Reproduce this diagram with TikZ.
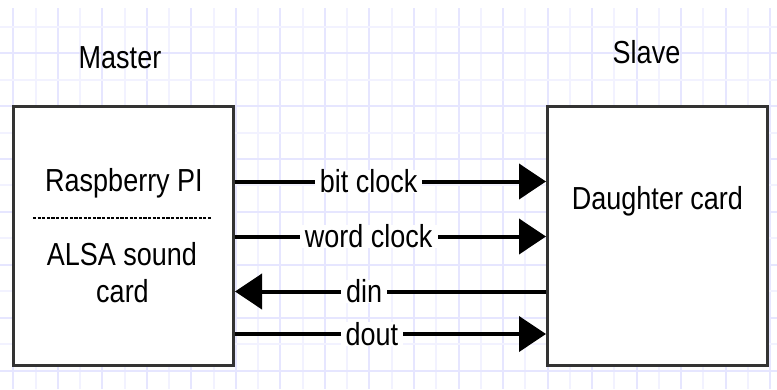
\documentclass[tikz,border=0pt]{standalone}
\usepackage{fontspec}
\setmainfont{Liberation Sans}
\usepackage{tikz}
\usetikzlibrary{arrows.meta}

\definecolor{griddark}{RGB}{230,230,255}
\definecolor{gridlight}{RGB}{242,242,255}
\definecolor{boxgray}{RGB}{51,51,51}

\tikzset{
  card/.style={draw=boxgray, line width=3pt, fill=white, inner sep=0pt,
    minimum width=220pt, minimum height=259pt},
  txt/.style={font=\fontsize{27}{31}\selectfont, inner sep=0pt, yscale=1.18, transform shape},
  sig/.style={line width=4pt, -{Triangle[length=27pt,width=35pt]}},
  sigback/.style={line width=4pt, {Triangle[length=27pt,width=35pt]}-},
  siglabel/.style={txt, fill=white, inner xsep=5pt, pos=.43}
}

\begin{document}
\begin{tikzpicture}[x=1pt, y=-1pt]
\useasboundingbox (0,0) rectangle (777,389);

% background grid, every other line a bit darker
\foreach \i in {0,2,...,34}
  \draw[griddark, line width=2pt] ({13.3+22.26*\i},8) -- ({13.3+22.26*\i},389);
\foreach \i in {1,3,...,33}
  \draw[gridlight, line width=2pt] ({13.3+22.26*\i},8) -- ({13.3+22.26*\i},389);
\foreach \j in {1,3,...,13}
  \draw[griddark, line width=2pt] (0,{26.7+26.45*\j}) -- (777,{26.7+26.45*\j});
\foreach \j in {0,2,...,12}
  \draw[gridlight, line width=2pt] (0,{26.7+26.45*\j}) -- (777,{26.7+26.45*\j});

% the two cards
\node[card] (master) at (123.5,236) {};
\node[card] (slave) at (657.5,236) {};

\node[txt, anchor=base] (mastertitle) at (120,68) {Master};
\node[txt, anchor=base] (slavetitle) at (646.5,63) {Slave};

\node[txt, anchor=base] (rpi) at (124,191) {Raspberry PI};
\draw[black, line width=1.6pt, dash pattern=on 3.2pt off 1.4pt] (33,218) -- (212,218);
\node[txt, anchor=base] (alsa) at (122,265) {ALSA sound};
\node[txt, anchor=base] (alsacard) at (122.5,302) {card};

\node[txt, anchor=base] (daughter) at (657.5,209) {Daughter card};

% I2S lines
\coordinate (bitrow) at (0,181.5);
\coordinate (wordrow) at (0,236.5);
\coordinate (dinrow) at (0,291.5);
\coordinate (doutrow) at (0,334);

\draw[sig] (master.east |- bitrow) -- node[siglabel] (bitlbl) {bit clock} (slave.west |- bitrow);
\draw[sig] (master.east |- wordrow) -- node[siglabel] (wordlbl) {word clock} (slave.west |- wordrow);
\draw[sigback] (master.east |- dinrow) -- node[siglabel, pos=.415] (dinlbl) {din} (slave.west |- dinrow);
\draw[sig] (master.east |- doutrow) -- node[siglabel, pos=.44] (doutlbl) {dout} (slave.west |- doutrow);
\end{tikzpicture}
\end{document}
